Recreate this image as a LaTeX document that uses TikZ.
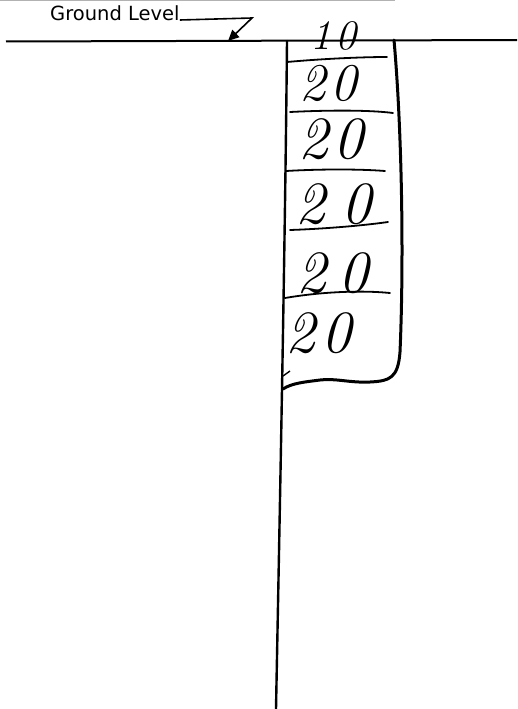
\documentclass[tikz,border=0pt]{standalone}
\usepackage{fontspec}
\newfontfamily\labelfont{DejaVu Sans}
\usetikzlibrary{arrows.meta}
\begin{document}
\begin{tikzpicture}[x=1pt,y=-1pt,
  ink/.style={line width=2.4pt, line cap=round, line join=round},
  divider/.style={line width=1.8pt, line cap=round},
  leader/.style={line width=1.6pt, -{Triangle[length=11pt,width=10pt]}},
  digits/.style={anchor=base west, inner sep=0pt, text height=38pt, text depth=0pt,
    font=\fontsize{60}{60}\selectfont\itshape},
  labeltext/.style={anchor=base west, inner sep=0pt, font=\labelfont\fontsize{19.5}{19.5}\selectfont}]
\useasboundingbox (0,0) rectangle (517,709);
% faint top edge
\draw[gray!60, line width=1pt] (0,1) -- (395,1);
% label and leader
\node[labeltext] (gl) at (50,21) {Ground Level};
\coordinate (bend) at (252,18);
\coordinate (tip) at (228,41);
\draw[leader] ([yshift=1pt]gl.base east) -- (bend) -- (tip);
% ground line
\coordinate (gw) at (6,41.5);
\coordinate (ge) at (517,40);
\draw[line width=2pt] (gw) -- (ge);
% long vertical line (left side of column)
\coordinate (lt) at (287,41);
\coordinate (lb) at (276,709);
\draw[ink] (lt) .. controls (285,250) and (280,500) .. (lb);
% right side and bottom of the column
\coordinate (rt) at (394,40);
\coordinate (rb) at (283,389);
\draw[line width=3pt, line cap=round, line join=round] (rt) .. controls (402,130) and (404,260) .. (400,352)
  .. controls (398,378) and (390,381) .. (370,382)
  .. controls (350,383) and (335,378) .. (320,380)
  .. controls (305,382) and (292,383) .. (rb);
\draw[line width=1.4pt] (283,376) -- (290,371);
% dividers
\draw[divider] (287,62) .. controls (320,59) and (360,57) .. (387,57);
\draw[divider] (290,112) .. controls (330,110) and (370,110) .. (393,113);
\draw[divider] (286,171) .. controls (320,169) and (360,169) .. (385,171);
\draw[divider] (290,230) .. controls (320,229) and (360,226) .. (388,222);
\draw[divider] (285,298) .. controls (320,292) and (360,290) .. (390,293);
% numbers
\node[digits, text height=27pt, font=\fontsize{42}{42}\selectfont\itshape] (n0) at (310,50) {1\hspace{4pt}0};
\node[digits, text height=34pt, font=\fontsize{53}{53}\selectfont\itshape] (n1) at (299,100) {2\hspace{5pt}0};
\node[digits] (n2) at (298,158) {2\hspace{5pt}0};
\node[digits] (n3) at (295,223) {2\hspace{16pt}0};
\node[digits] (n4) at (296,292) {2\hspace{12pt}0};
\node[digits] (n5) at (285,352) {2\hspace{6pt}0};
\end{tikzpicture}
\end{document}
